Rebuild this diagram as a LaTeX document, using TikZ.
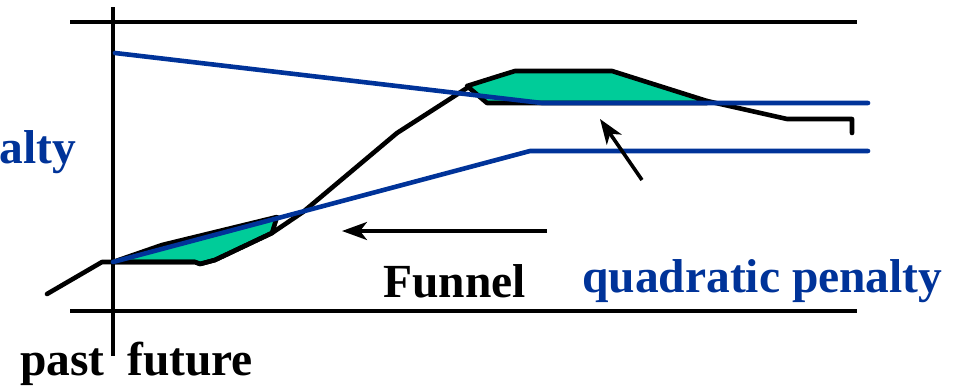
\documentclass[tikz,border=0pt]{standalone}
\usepackage{fontspec}
\setmainfont{Liberation Serif}
\usetikzlibrary{arrows.meta}
\definecolor{penaltyblue}{RGB}{0,51,153}
\definecolor{funnelgreen}{RGB}{0,204,153}

\begin{document}
\begin{tikzpicture}[x=1pt,y=-1pt]
\tikzset{
  axisline/.style={draw=black,line width=4.6pt},
  trajline/.style={draw=black,line width=4.6pt,line join=round,line cap=round},
  penaltyline/.style={draw=penaltyblue,line width=4.6pt,line join=round,line cap=round},
  slackpoly/.style={fill=funnelgreen,draw=black,line width=4.6pt,line join=round},
  hintarrow/.style={draw=black,line width=3.6pt,-{Stealth[length=25pt,width=18pt,inset=7pt]}},
  bigtext/.style={inner sep=0pt,font=\bfseries\fontsize{47.5}{50}\selectfont}
}
\useasboundingbox (0,0) rectangle (963,388);
\draw[axisline] (70,22) -- (857,22);
\draw[axisline] (70,311) -- (857,311);
\draw[axisline] (113,7) -- (113,356);
\draw[slackpoly] (113,262) -- (162,245) -- (277,217) -- (272,233) -- (215,260) -- (200,264) -- (195,262) -- cycle;
\draw[slackpoly] (467,86) -- (502,75) -- (515,71) -- (612,71) -- (707,101) -- (707,103) -- (487,103) -- cycle;
\draw[trajline] (47,294) -- (102,262) -- (195,262) -- (200,264) -- (215,260) -- (272,233) -- (303,212) -- (397,133) -- (467,88);
\draw[trajline] (707,101) -- (787,119) -- (852,119) -- (852,133);
\draw[penaltyline] (115,53) -- (542,103) -- (868,103);
\draw[penaltyline] (113,262) -- (530,151) -- (868,151);
\coordinate (c_funnel_tail) at (547,231);
\coordinate (c_funnel_tip) at (342,231);
\coordinate (c_quad_tail) at (642,180);
\coordinate (c_quad_tip) at (600,119);
\draw[hintarrow] (c_funnel_tail) -- (c_funnel_tip);
\draw[hintarrow] (c_quad_tail) -- (c_quad_tip);
\node[bigtext,anchor=base west] (n_funnel) at (383,297) {Funnel};
\node[bigtext,anchor=base west,text=penaltyblue] (n_quad) at (582,292) {quadratic penalty};
\node[bigtext,anchor=base east,text=penaltyblue] (n_alty) at (76,163) {alty};
\node[bigtext,anchor=base west] (n_past) at (20,375) {past};
\node[bigtext,anchor=base west] (n_future) at (127,375) {future};
\end{tikzpicture}
\end{document}
